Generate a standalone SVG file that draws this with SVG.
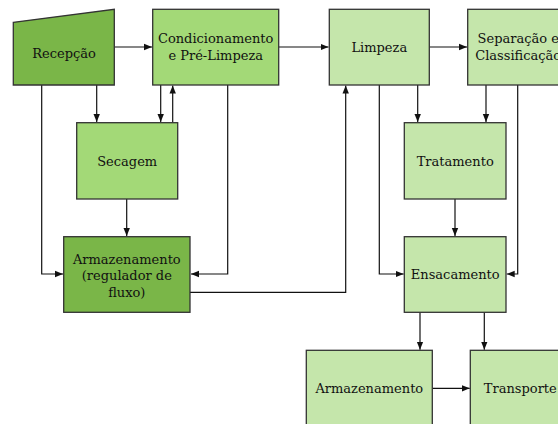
<svg xmlns="http://www.w3.org/2000/svg" width="558" height="424" viewBox="0 0 558 424">
<style>
.n{stroke:#333;stroke-width:1.3}
.d{fill:#7ab648}
.m{fill:#a3d977}
.l{fill:#c5e6ab}
text{font-family:"DejaVu Serif","Liberation Serif",serif;font-size:13px;fill:#111;text-anchor:middle}
.c path{fill:none;stroke:#111;stroke-width:1.2;marker-end:url(#a)}
</style>
<defs>
<marker id="a" viewBox="0 0 10 10" refX="10" refY="5" markerWidth="8" markerHeight="8" markerUnits="userSpaceOnUse" orient="auto">
<path d="M0,1L10,5L0,9z" fill="#111"/>
</marker>
</defs>
<rect width="558" height="424" fill="#fff"/>
<g class="c">
<path d="M114.5,47H152"/>
<path d="M96.7,85V122"/>
<path d="M41.7,85V274H63"/>
<path d="M160.7,85V122"/>
<path d="M172.7,122.5V85.5"/>
<path d="M227.7,85V274H191"/>
<path d="M278.7,47H328.5"/>
<path d="M126.7,199V236"/>
<path d="M190,292.3H345.7V85.5"/>
<path d="M429.3,47H467"/>
<path d="M379.3,85V274H403.7"/>
<path d="M417.7,85V122"/>
<path d="M486,85V122"/>
<path d="M517.7,85V274H506.7"/>
<path d="M455,199V236"/>
<path d="M420,312.3V349.7"/>
<path d="M484.3,312.3V349.7"/>
<path d="M432.3,388.3H469.7"/>
</g>
<g id="recepcao"><path class="n d" d="M13.3,22.3L114.3,9.3V85H13.3z"/><text x="64" y="58">Recepção</text></g>
<g id="condicionamento"><rect class="n m" x="152.7" y="9.3" width="126" height="75.7"/><text x="215.7" y="42.5">Condicionamento</text><text x="215.7" y="59.5">e Pré-Limpeza</text></g>
<g id="limpeza"><rect class="n l" x="329.3" y="9.3" width="100" height="75.7"/><text x="379.3" y="52">Limpeza</text></g>
<g id="separacao"><rect class="n l" x="467.7" y="9.3" width="101" height="75.7"/><text x="518.2" y="42.5">Separação e</text><text x="518.2" y="59.5">Classificação</text></g>
<g id="secagem"><rect class="n m" x="76.7" y="122.7" width="101" height="76.3"/><text x="127.2" y="165.5">Secagem</text></g>
<g id="tratamento"><rect class="n l" x="404.3" y="122.7" width="101.7" height="76.3"/><text x="455.2" y="165.5">Tratamento</text></g>
<g id="armazenamento-regulador"><rect class="n d" x="63.7" y="236.7" width="126.3" height="75.6"/><text x="126.8" y="263.5">Armazenamento</text><text x="126.8" y="280">(regulador de</text><text x="126.8" y="296.5">fluxo)</text></g>
<g id="ensacamento"><rect class="n l" x="404.3" y="236.7" width="101.7" height="75.6"/><text x="455.2" y="279">Ensacamento</text></g>
<g id="armazenamento"><rect class="n l" x="306.3" y="350.3" width="126" height="80"/><text x="369.3" y="393">Armazenamento</text></g>
<g id="transporte"><rect class="n l" x="470.3" y="350.3" width="100" height="80"/><text x="520.3" y="393">Transporte</text></g>
</svg>
